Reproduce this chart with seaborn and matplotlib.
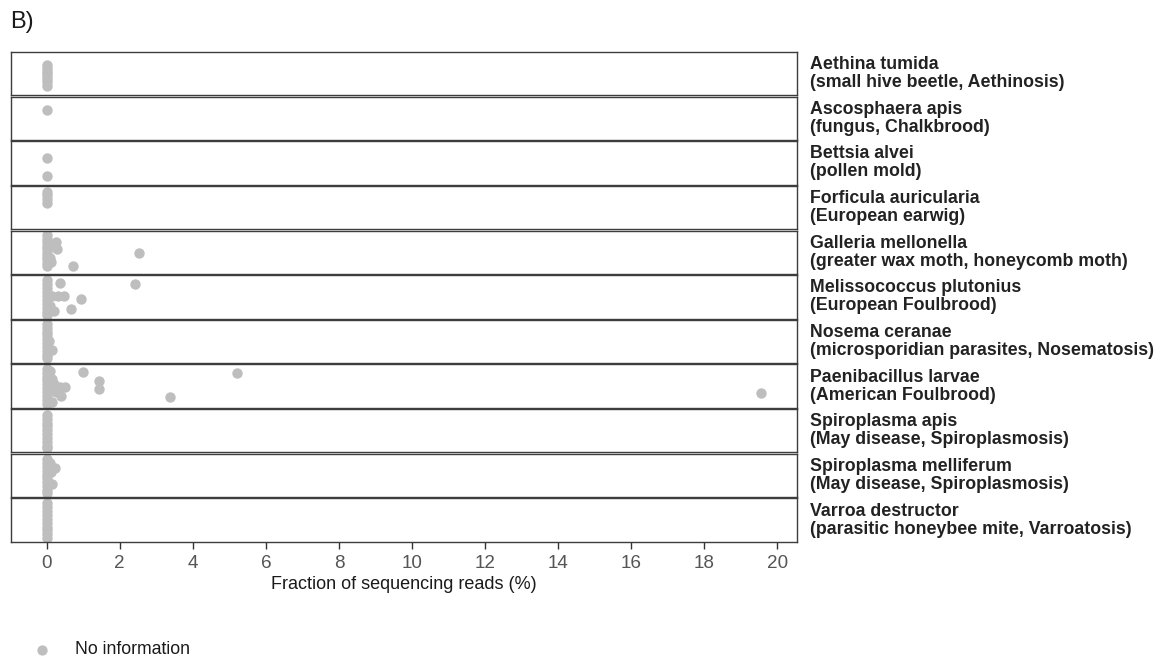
import numpy as np
import pandas as pd
import matplotlib
matplotlib.use("Agg")
import matplotlib.pyplot as plt
from matplotlib.lines import Line2D
import seaborn as sns

sns.set_theme(style="white")
plt.rcParams["font.family"] = ["Liberation Sans", "DejaVu Sans"]

# Species shown in each facet row (name + common name / disease)
species = [
    "Aethina tumida\n(small hive beetle, Aethinosis)",
    "Ascosphaera apis\n(fungus, Chalkbrood)",
    "Bettsia alvei\n(pollen mold)",
    "Forficula auricularia\n(European earwig)",
    "Galleria mellonella\n(greater wax moth, honeycomb moth)",
    "Melissococcus plutonius\n(European Foulbrood)",
    "Nosema ceranae\n(microsporidian parasites, Nosematosis)",
    "Paenibacillus larvae\n(American Foulbrood)",
    "Spiroplasma apis\n(May disease, Spiroplasmosis)",
    "Spiroplasma melliferum\n(May disease, Spiroplasmosis)",
    "Varroa destructor\n(parasitic honeybee mite, Varroatosis)",
]

# Fraction of sequencing reads (%) per sample, and the vertical jitter of each point
aethina_pct = [0, 0, 0, 0, 0, 0, 0, 0]
aethina_jit = [0.71, 0.64, 0.57, 0.51, 0.44, 0.37, 0.30, 0.22]

ascosphaera_pct = [0]
ascosphaera_jit = [0.70]

bettsia_pct = [0, 0]
bettsia_jit = [0.62, 0.21]

forficula_pct = [0, 0, 0, 0]
forficula_jit = [0.87, 0.79, 0.70, 0.61]

galleria_pct = [0, 0, 0, 0, 0, 0, 0, 0, 0, 0, 0.10, 0.12, 0.05, 0.26, 0.28, 0.73, 2.52]
galleria_jit = [0.89, 0.81, 0.73, 0.65, 0.57, 0.49, 0.42, 0.34, 0.26, 0.18, 0.37, 0.28, 0.62,
                0.74, 0.57, 0.18, 0.49]

melissococcus_pct = [0, 0, 0, 0, 0, 0, 0, 0, 0, 0, 0.15, 0.30, 0.35, 0.48, 0.94, 0.66, 0.20,
                     0.08, 2.42]
melissococcus_jit = [0.88, 0.79, 0.70, 0.61, 0.52, 0.43, 0.34, 0.25, 0.16, 0.09, 0.52, 0.52,
                     0.82, 0.52, 0.46, 0.23, 0.18, 0.30, 0.79]

nosema_pct = [0, 0, 0, 0, 0, 0, 0, 0, 0, 0, 0.14, 0.05]
nosema_jit = [0.90, 0.82, 0.73, 0.64, 0.55, 0.46, 0.37, 0.28, 0.19, 0.12, 0.31, 0.52]

paenibacillus_pct = [0, 0, 0, 0, 0, 0, 0, 0, 0, 0, 0.10, 0.15, 0.20, 0.35, 0.50, 0.25, 0.40,
                     0.15, 0.99, 1.44, 1.44, 3.37, 5.22, 19.56]
paenibacillus_jit = [0.89, 0.81, 0.72, 0.63, 0.54, 0.45, 0.36, 0.27, 0.18, 0.09, 0.85, 0.67,
                     0.56, 0.49, 0.48, 0.36, 0.27, 0.13, 0.82, 0.61, 0.43, 0.24, 0.81, 0.34]

spiro_apis_pct = [0, 0, 0, 0, 0, 0, 0, 0, 0, 0]
spiro_apis_jit = [0.87, 0.78, 0.69, 0.60, 0.51, 0.42, 0.33, 0.24, 0.15, 0.10]

spiro_mell_pct = [0, 0, 0, 0, 0, 0, 0, 0, 0, 0, 0.23, 0.10, 0.12, 0.15]
spiro_mell_jit = [0.88, 0.79, 0.70, 0.61, 0.52, 0.43, 0.34, 0.25, 0.16, 0.09, 0.67, 0.79,
                  0.58, 0.29]

varroa_pct = [0, 0, 0, 0, 0, 0, 0, 0, 0, 0]
varroa_jit = [0.89, 0.80, 0.71, 0.62, 0.53, 0.44, 0.35, 0.26, 0.17, 0.08]

pct_lists = [aethina_pct, ascosphaera_pct, bettsia_pct, forficula_pct, galleria_pct,
             melissococcus_pct, nosema_pct, paenibacillus_pct, spiro_apis_pct,
             spiro_mell_pct, varroa_pct]
jit_lists = [aethina_jit, ascosphaera_jit, bettsia_jit, forficula_jit, galleria_jit,
             melissococcus_jit, nosema_jit, paenibacillus_jit, spiro_apis_jit,
             spiro_mell_jit, varroa_jit]

x_ticks = [0, 2, 4, 6, 8, 10, 12, 14, 16, 18, 20]

rows = []
for name, pcts, jits in zip(species, pct_lists, jit_lists):
    for p, j in zip(pcts, jits):
        rows.append({"species": name, "pct": p, "jitter": j, "info": "No information"})
df = pd.DataFrame(rows)

W, H = 1163, 660
fig = plt.figure(figsize=(W / 100, H / 100), dpi=100)
fig.patch.set_facecolor("white")

n = len(species)
axes = fig.subplots(n, 1, sharex=True)
fig.subplots_adjust(left=11 / W, right=797 / W, top=1 - 52 / H, bottom=1 - 541.7 / H,
                    hspace=0.03)

point_color = "#BEBEBE"
frame_color = "#3d3d3d"

xmax = max(max(p) for p in pct_lists)
pad = 0.05 * xmax
for i, (ax, name) in enumerate(zip(axes, species)):
    sub = df[df["species"] == name]
    sns.scatterplot(data=sub, x="pct", y="jitter", ax=ax, color=point_color, s=56,
                    linewidth=0, legend=False)
    ax.set_ylim(0, 1)
    ax.set_xlim(-pad, xmax + pad)
    ax.set_yticks([])
    ax.set_ylabel("")
    ax.set_xlabel("")
    ax.set_facecolor("white")
    for sp in ax.spines.values():
        sp.set_visible(True)
        sp.set_color(frame_color)
        sp.set_linewidth(1.0)
    ax.text(1.017, 0.5, name, transform=ax.transAxes, ha="left", va="center",
            fontsize=12.8, fontweight="bold", color="#222222", linespacing=1.08)
    if i < n - 1:
        ax.tick_params(axis="x", bottom=False, labelbottom=False)

bottom_ax = axes[-1]
bottom_ax.set_xticks(x_ticks)
bottom_ax.set_xticklabels([str(t) for t in x_ticks])
bottom_ax.tick_params(axis="x", bottom=True, length=5, width=1.0, color="#333333",
                      labelsize=13.6, labelcolor="#555555", pad=4.5)
bottom_ax.set_xlabel("Fraction of sequencing reads (%)", fontsize=13, color="#1a1a1a",
                     labelpad=3)

# Panel tag
fig.text(10 / W, 1 - 22 / H, "B)", ha="left", va="center", fontsize=17, color="#1a1a1a")

# Legend for the point colour
fig.add_artist(Line2D([41.7 / W], [1 - 650 / H], marker="o", markersize=7.4, linestyle="",
                      color=point_color, markeredgewidth=0, transform=fig.transFigure))
fig.text(75 / W, 1 - 650 / H, "No information", ha="left", va="center", fontsize=12.7,
         color="#1a1a1a")

fig.savefig("out.png", dpi=100, facecolor="white")
